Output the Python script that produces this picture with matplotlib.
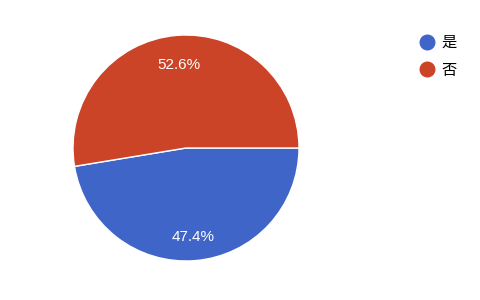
import matplotlib.pyplot as plt
from matplotlib.lines import Line2D

plt.rcParams['font.family'] = ['Noto Sans CJK SC', 'DejaVu Sans']

# data
labels = ['是', '否']
values = [47.4, 52.6]
colors = ['#4065c8', '#cb4427']

fig = plt.figure(figsize=(4.8, 3.0), dpi=100)
# pie axes: center ~ (185.5, 148) px, radius ~112.5 px
ax = fig.add_axes([73 / 480, (300 - 261) / 300, 226 / 480, 226 / 300])
wedges, texts, autotexts = ax.pie(
    values, colors=colors, startangle=0, counterclock=False,
    autopct='%.1f%%', pctdistance=0.76, radius=1,
    wedgeprops=dict(edgecolor='white', linewidth=1),
    textprops=dict(color='white', fontsize=11, family=['Liberation Sans', 'DejaVu Sans']))
# nudge percent labels down a little
for t in autotexts:
    x, y = t.get_position()
    t.set_position((x, y - 0.027))
ax.set_xlim(-1.0, 1.0)
ax.set_ylim(-1.0, 1.0)
ax.set_aspect('equal')

# legend
handles = [Line2D([], [], marker='o', linestyle='', markersize=10.5,
                  markerfacecolor=c, markeredgecolor=c) for c in colors]
fig.legend(handles, labels, loc='upper left', bbox_to_anchor=(418 / 480, 1 - 34 / 300),
           frameon=False, fontsize=11, handletextpad=0.35, labelspacing=0.7,
           handlelength=1.2, borderpad=0, borderaxespad=0)

fig.savefig('out.png', dpi=100)
